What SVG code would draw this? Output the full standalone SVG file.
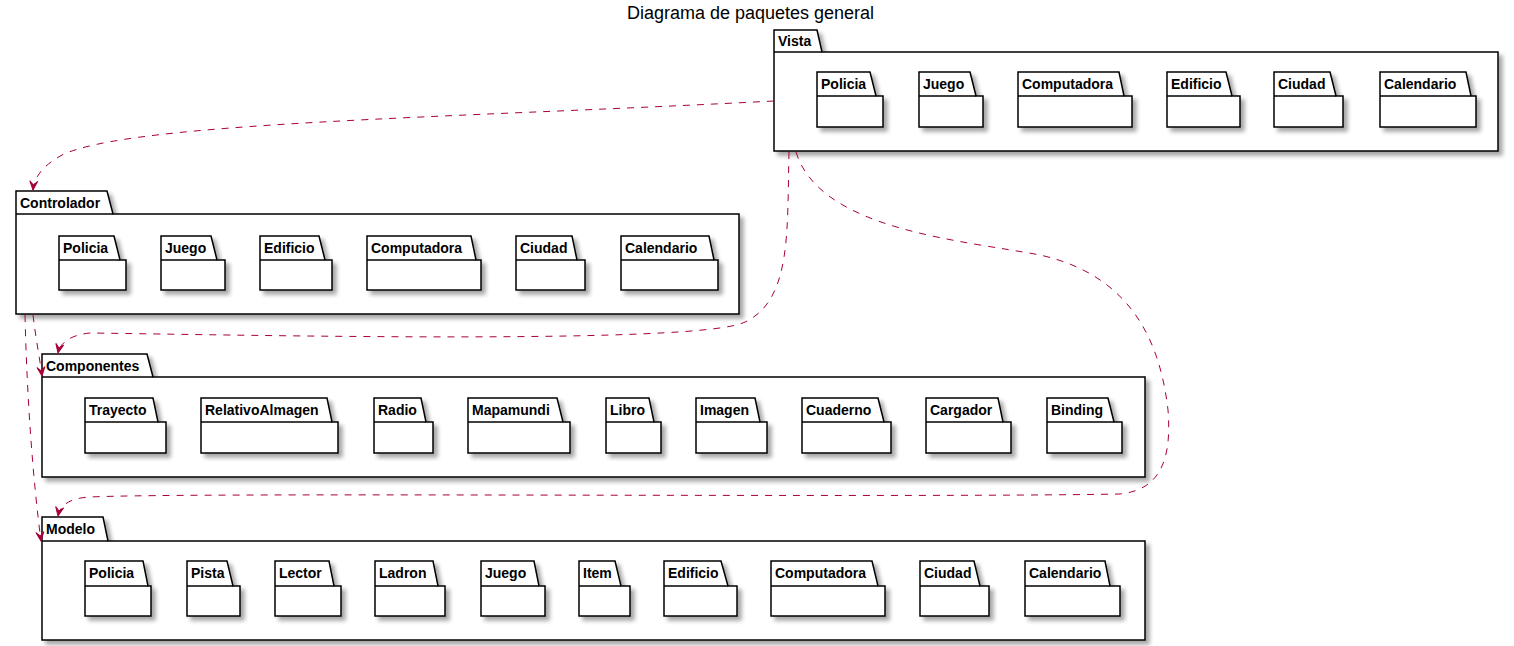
<svg xmlns="http://www.w3.org/2000/svg" width="1514" height="646" viewBox="0 0 1514 646">
<style>
.pk{fill:#FFFFFF;stroke:#000000;stroke-width:1.5;filter:url(#sh)}
.tl{fill:none;stroke:#000000;stroke-width:1.5}
.lb{font-family:"Liberation Sans",Arial,sans-serif;font-size:14px;font-weight:bold;fill:#000000}
.title{font-family:"Liberation Sans",Arial,sans-serif;font-size:18px;fill:#000000}
.cn{fill:none;stroke:#A80036;stroke-width:1;stroke-dasharray:7,7;marker-end:url(#arr)}
</style>
<defs>
<filter id="sh" x="-10%" y="-10%" width="130%" height="140%">
<feGaussianBlur in="SourceAlpha" stdDeviation="2"/>
<feOffset dx="4" dy="4" result="o"/>
<feComponentTransfer><feFuncA type="linear" slope="0.35"/></feComponentTransfer>
<feMerge><feMergeNode/><feMergeNode in="SourceGraphic"/></feMerge>
</filter>
<marker id="arr" viewBox="-10 -5 11 10" refX="0" refY="0" markerWidth="11" markerHeight="10" markerUnits="userSpaceOnUse" orient="auto">
<path d="M0,0 L-9,-4 L-5,0 L-9,4 Z" fill="#A80036" stroke="#A80036" stroke-width="1" stroke-dasharray="none"/>
</marker>
</defs>
<rect width="1514" height="646" fill="#FFFFFF"/>
<text class="title" x="750.5" y="19" text-anchor="middle">Diagrama de paquetes general</text>

<g id="Vista">
<path class="pk" d="M774,30 L817,30 L822,52 L1498,52 L1498,151 L774,151 Z"/>
<path class="tl" d="M774,52 L822,52"/>
<text class="lb" x="778" y="46">Vista</text>
</g>
<g id="Vista.Policia"><path class="pk" d="M817,72 L870,72 L876,96 L883,96 L883,127 L817,127 Z"/><path class="tl" d="M817,96 L876,96"/><text class="lb" x="821" y="88.5">Policia</text></g>
<g id="Vista.Juego"><path class="pk" d="M919,72 L970,72 L976,96 L983,96 L983,127 L919,127 Z"/><path class="tl" d="M919,96 L976,96"/><text class="lb" x="923" y="88.5">Juego</text></g>
<g id="Vista.Computadora"><path class="pk" d="M1018,72 L1119,72 L1124,96 L1132,96 L1132,127 L1018,127 Z"/><path class="tl" d="M1018,96 L1124,96"/><text class="lb" x="1022" y="88.5">Computadora</text></g>
<g id="Vista.Edificio"><path class="pk" d="M1167,72 L1226,72 L1232,96 L1240,96 L1240,127 L1167,127 Z"/><path class="tl" d="M1167,96 L1232,96"/><text class="lb" x="1171" y="88.5">Edificio</text></g>
<g id="Vista.Ciudad"><path class="pk" d="M1274,72 L1330,72 L1336,96 L1343,96 L1343,127 L1274,127 Z"/><path class="tl" d="M1274,96 L1336,96"/><text class="lb" x="1278" y="88.5">Ciudad</text></g>
<g id="Vista.Calendario"><path class="pk" d="M1380,72 L1466,72 L1471,96 L1476,96 L1476,127 L1380,127 Z"/><path class="tl" d="M1380,96 L1471,96"/><text class="lb" x="1384" y="88.5">Calendario</text></g>

<g id="Controlador">
<path class="pk" d="M16,191 L107,191 L113,214 L739,214 L739,314 L16,314 Z"/>
<path class="tl" d="M16,214 L113,214"/>
<text class="lb" x="20" y="207.5">Controlador</text>
</g>
<g id="Controlador.Policia"><path class="pk" d="M59,236 L114,236 L120,260 L126,260 L126,290 L59,290 Z"/><path class="tl" d="M59,260 L120,260"/><text class="lb" x="63" y="252.5">Policia</text></g>
<g id="Controlador.Juego"><path class="pk" d="M161,236 L211,236 L217,260 L225,260 L225,290 L161,290 Z"/><path class="tl" d="M161,260 L217,260"/><text class="lb" x="165" y="252.5">Juego</text></g>
<g id="Controlador.Edificio"><path class="pk" d="M260,236 L319,236 L325,260 L332,260 L332,290 L260,290 Z"/><path class="tl" d="M260,260 L325,260"/><text class="lb" x="264" y="252.5">Edificio</text></g>
<g id="Controlador.Computadora"><path class="pk" d="M367,236 L471,236 L476,260 L481,260 L481,290 L367,290 Z"/><path class="tl" d="M367,260 L476,260"/><text class="lb" x="371" y="252.5">Computadora</text></g>
<g id="Controlador.Ciudad"><path class="pk" d="M516,236 L572,236 L577,260 L585,260 L585,290 L516,290 Z"/><path class="tl" d="M516,260 L577,260"/><text class="lb" x="520" y="252.5">Ciudad</text></g>
<g id="Controlador.Calendario"><path class="pk" d="M621,236 L709,236 L714,260 L718,260 L718,290 L621,290 Z"/><path class="tl" d="M621,260 L714,260"/><text class="lb" x="625" y="252.5">Calendario</text></g>

<g id="Componentes">
<path class="pk" d="M42,354 L147,354 L153,377 L1145,377 L1145,477 L42,477 Z"/>
<path class="tl" d="M42,377 L153,377"/>
<text class="lb" x="46" y="370.5">Componentes</text>
</g>
<g id="Componentes.Trayecto"><path class="pk" d="M85,398 L153,398 L158,422 L166,422 L166,453 L85,453 Z"/><path class="tl" d="M85,422 L158,422"/><text class="lb" x="89" y="414.5">Trayecto</text></g>
<g id="Componentes.RelativoAlmagen"><path class="pk" d="M201,398 L327,398 L332,422 L338,422 L338,453 L201,453 Z"/><path class="tl" d="M201,422 L332,422"/><text class="lb" x="205" y="414.5">RelativoAlmagen</text></g>
<g id="Componentes.Radio"><path class="pk" d="M374,398 L421,398 L426,422 L433,422 L433,453 L374,453 Z"/><path class="tl" d="M374,422 L426,422"/><text class="lb" x="378" y="414.5">Radio</text></g>
<g id="Componentes.Mapamundi"><path class="pk" d="M468,398 L557,398 L563,422 L570,422 L570,453 L468,453 Z"/><path class="tl" d="M468,422 L563,422"/><text class="lb" x="472" y="414.5">Mapamundi</text></g>
<g id="Componentes.Libro"><path class="pk" d="M606,398 L649,398 L654,422 L661,422 L661,453 L606,453 Z"/><path class="tl" d="M606,422 L654,422"/><text class="lb" x="610" y="414.5">Libro</text></g>
<g id="Componentes.Imagen"><path class="pk" d="M696,398 L755,398 L760,422 L767,422 L767,453 L696,453 Z"/><path class="tl" d="M696,422 L760,422"/><text class="lb" x="700" y="414.5">Imagen</text></g>
<g id="Componentes.Cuaderno"><path class="pk" d="M802,398 L878,398 L884,422 L891,422 L891,453 L802,453 Z"/><path class="tl" d="M802,422 L884,422"/><text class="lb" x="806" y="414.5">Cuaderno</text></g>
<g id="Componentes.Cargador"><path class="pk" d="M926,398 L998,398 L1003,422 L1011,422 L1011,453 L926,453 Z"/><path class="tl" d="M926,422 L1003,422"/><text class="lb" x="930" y="414.5">Cargador</text></g>
<g id="Componentes.Binding"><path class="pk" d="M1047,398 L1108,398 L1114,422 L1122,422 L1122,453 L1047,453 Z"/><path class="tl" d="M1047,422 L1114,422"/><text class="lb" x="1051" y="414.5">Binding</text></g>

<g id="Modelo">
<path class="pk" d="M42,517 L103,517 L108,541 L1145,541 L1145,640 L42,640 Z"/>
<path class="tl" d="M42,541 L108,541"/>
<text class="lb" x="46" y="533.5">Modelo</text>
</g>
<g id="Modelo.Policia"><path class="pk" d="M85,561 L143,561 L148,586 L151,586 L151,616 L85,616 Z"/><path class="tl" d="M85,586 L148,586"/><text class="lb" x="89" y="577.5">Policia</text></g>
<g id="Modelo.Pista"><path class="pk" d="M187,561 L227,561 L233,586 L240,586 L240,616 L187,616 Z"/><path class="tl" d="M187,586 L233,586"/><text class="lb" x="191" y="577.5">Pista</text></g>
<g id="Modelo.Lector"><path class="pk" d="M275,561 L329,561 L334,586 L341,586 L341,616 L275,616 Z"/><path class="tl" d="M275,586 L334,586"/><text class="lb" x="279" y="577.5">Lector</text></g>
<g id="Modelo.Ladron"><path class="pk" d="M375,561 L433,561 L438,586 L445,586 L445,616 L375,616 Z"/><path class="tl" d="M375,586 L438,586"/><text class="lb" x="379" y="577.5">Ladron</text></g>
<g id="Modelo.Juego"><path class="pk" d="M481,561 L534,561 L539,586 L545,586 L545,616 L481,616 Z"/><path class="tl" d="M481,586 L539,586"/><text class="lb" x="485" y="577.5">Juego</text></g>
<g id="Modelo.Item"><path class="pk" d="M579,561 L615,561 L621,586 L630,586 L630,616 L579,616 Z"/><path class="tl" d="M579,586 L621,586"/><text class="lb" x="583" y="577.5">Item</text></g>
<g id="Modelo.Edificio"><path class="pk" d="M664,561 L721,561 L728,586 L737,586 L737,616 L664,616 Z"/><path class="tl" d="M664,586 L728,586"/><text class="lb" x="668" y="577.5">Edificio</text></g>
<g id="Modelo.Computadora"><path class="pk" d="M771,561 L872,561 L878,586 L885,586 L885,616 L771,616 Z"/><path class="tl" d="M771,586 L878,586"/><text class="lb" x="775" y="577.5">Computadora</text></g>
<g id="Modelo.Ciudad"><path class="pk" d="M920,561 L974,561 L980,586 L989,586 L989,616 L920,616 Z"/><path class="tl" d="M920,586 L980,586"/><text class="lb" x="924" y="577.5">Ciudad</text></g>
<g id="Modelo.Calendario"><path class="pk" d="M1025,561 L1105,561 L1110,586 L1120,586 L1120,616 L1025,616 Z"/><path class="tl" d="M1025,586 L1110,586"/><text class="lb" x="1029" y="577.5">Calendario</text></g>

<g id="connectors">
<path class="cn" d="M774,101 C450,118 130,122 62,155 C42,166 34,178 33,190"/>
<path class="cn" d="M789,152 C787,230 792,300 745,322 C700,345 250,335 90,333 C70,335 60,343 58,353"/>
<path class="cn" d="M796,152 C820,230 960,240 1040,255 C1130,275 1160,340 1168,410 C1172,460 1160,490 1120,494 C900,498 200,492 90,497 C70,498 60,505 58,516"/>
<path class="cn" d="M33,315 C36,340 40,360 42,376"/>
<path class="cn" d="M25,315 C27,400 33,480 41,541"/>
</g>
</svg>
